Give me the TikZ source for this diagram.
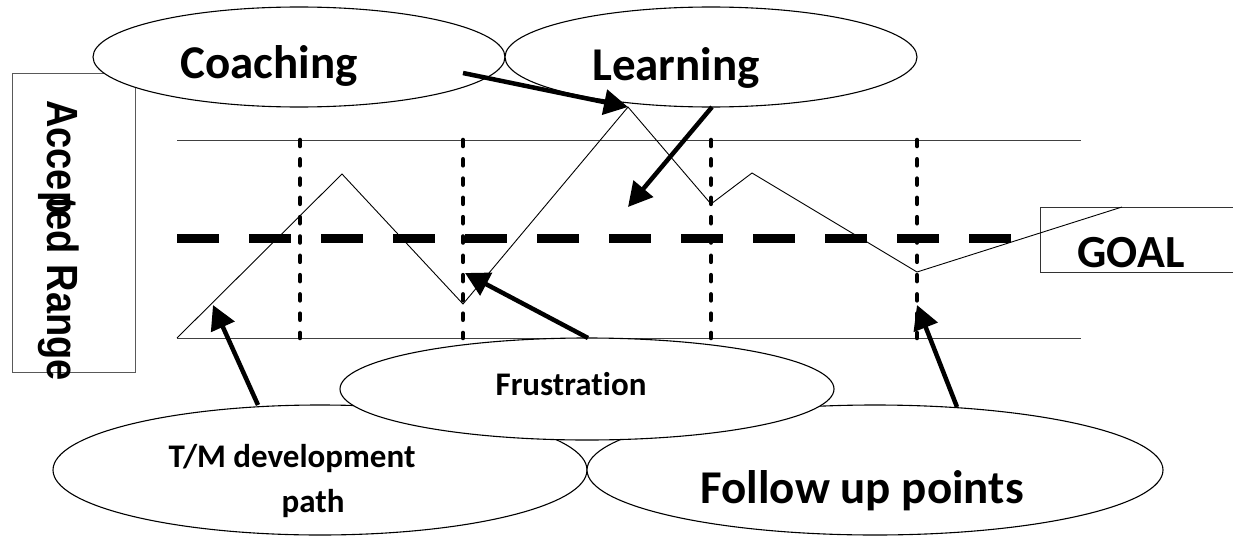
\documentclass[tikz,border=0pt]{standalone}
\usepackage{fontspec}
\setmainfont{Carlito}[Ligatures=NoCommon]
\newfontfamily\arialfont{Liberation Sans}
\usetikzlibrary{shapes.geometric,arrows.meta}
\begin{document}
\begin{tikzpicture}[x=1pt,y=-1pt,
  bubble/.style={draw, ellipse, fill=white, line width=1.1pt, inner sep=0pt},
  lbl/.style={anchor=base, inner sep=0pt, font=\bfseries},
  big/.style={lbl, font=\bfseries\fontsize{47}{50}\selectfont},
  small/.style={lbl, font=\bfseries\fontsize{33}{36}\selectfont},
  ptr/.style={line width=4.5pt, -{Triangle[length=24pt,width=25pt]}},
  gridline/.style={line width=1pt, black!75},
  goalline/.style={line width=9pt, dash pattern=on 42pt off 30pt},
  divider/.style={line width=4.6pt, line cap=round, dash pattern=on 6pt off 13.3pt},
  trend/.style={line width=0.9pt}]
\clip (0,0) rectangle (1233,535);
\fill[white] (0,0) rectangle (1233,535);

% accepted range box
\node[draw=black!65, line width=1pt, minimum width=123pt, minimum height=299pt,
  inner sep=0pt, anchor=north west] (range) at (12,73) {};
\node[rotate=-90, anchor=base west, inner sep=0pt,
  font=\arialfont\bfseries\fontsize{38}{40}\selectfont] (rangeT) at (47,100)
  {\scalebox{1}[1.15]{Accep\kern-0.45em ted Range}};

% top bubbles
\node[bubble, minimum width=412pt, minimum height=100pt] (coach) at (299,57) {};
\node[bubble, minimum width=412pt, minimum height=100pt] (learn) at (711,57) {};
\node[big] (coachT) at (269,78) {Coaching};
\node[big] (learnT) at (676,80) {Learning};

% band
\coordinate (tl) at (177,140); \coordinate (tr) at (1081,140);
\coordinate (bl) at (177,338); \coordinate (br) at (1081,338);
\coordinate (gl) at (177,238); \coordinate (gr) at (1011,238);
\draw[gridline] (tl) -- (tr);
\draw[gridline] (bl) -- (br);
\draw[goalline] (gl) -- (gr);
\foreach \x/\n in {300/a,463/b,711/c,917/d}{
  \coordinate (v\n t) at (\x,140); \coordinate (v\n b) at (\x,338);
  \draw[divider] (v\n t) -- (v\n b);
}

% goal box
\node[draw=black!80, line width=1pt, minimum width=200pt, minimum height=65pt,
  inner sep=0pt, anchor=north west] (goal) at (1040,207) {};
\node[big, font=\bfseries\fontsize{46}{50}\selectfont] (goalT) at (1131,267) {GOAL};

% trend line
\coordinate (p0) at (177,338);
\coordinate (p1) at (342,174);
\coordinate (p2) at (463,304);
\coordinate (p3) at (628,107);
\coordinate (p4) at (711,204);
\coordinate (p5) at (752,173);
\coordinate (p6) at (917,272);
\coordinate (p7) at (1122,207);
\draw[trend] (p0) -- (p1) -- (p2) -- (p3) -- (p4) -- (p5) -- (p6) -- (p7);

% bottom bubbles
\node[bubble, minimum width=534pt, minimum height=130pt] (tm) at (320,470) {};
\node[bubble, minimum width=576pt, minimum height=130pt] (follow) at (875,470) {};
\node[bubble, minimum width=494pt, minimum height=102pt] (frus) at (587,389) {};
\node[small] (frusT) at (571,395) {Frustration};
\node[small] (tmT1) at (292,467) {T/M development};
\node[small] (tmT2) at (313,512) {path};
\node[big] (followT) at (862,503) {Follow up points};

% arrows
\coordinate (a1s) at (463,73);  \coordinate (a1e) at (628,107);
\coordinate (a2s) at (712,107); \coordinate (a2e) at (628,207);
\coordinate (a3s) at (258,405); \coordinate (a3e) at (213,305);
\coordinate (a4s) at (588,338); \coordinate (a4e) at (465,273);
\coordinate (a5s) at (957,407); \coordinate (a5e) at (917,305);
\draw[ptr] (a1s) -- (a1e);
\draw[ptr] (a2s) -- (a2e);
\draw[ptr] (a3s) -- (a3e);
\draw[ptr] (a4s) -- (a4e);
\draw[ptr] (a5s) -- (a5e);
\end{tikzpicture}
\end{document}
